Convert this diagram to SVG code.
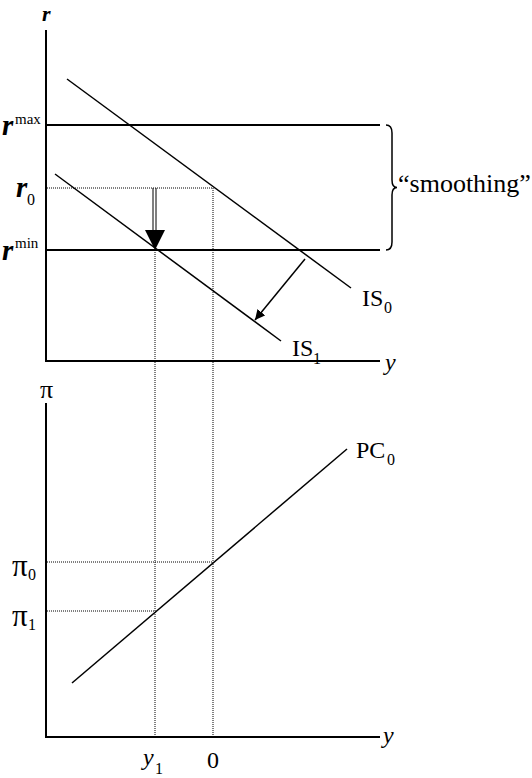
<svg xmlns="http://www.w3.org/2000/svg" width="532" height="778" viewBox="0 0 532 778">
<style>
text{font-family:"Liberation Serif","Times New Roman",serif;fill:#000}
.lbl{font-size:24px}
.sub{font-size:16px}
.sup{font-size:15px}
.it{font-style:italic}
.bi{font-style:italic;font-weight:bold;font-size:29px}
.pi{font-size:31px}
.axis{stroke:#000;stroke-width:2;fill:none}
.curve{stroke:#000;stroke-width:1.5;fill:none}
.dot{stroke:#000;stroke-width:1;stroke-dasharray:1 1;fill:none}
</style>
<defs>
<marker id="ah" viewBox="0 0 10 10" refX="10" refY="5" markerWidth="10" markerHeight="10" markerUnits="userSpaceOnUse" orient="auto">
<path d="M0,0 L10,5 L0,10 z" fill="#000"/>
</marker>
</defs>
<g id="top-panel">
<line class="axis" x1="46" y1="30" x2="46" y2="361"/>
<line class="axis" x1="45" y1="361" x2="380" y2="361"/>
<text class="bi" x="42" y="21" style="font-size:22px">r</text>
<text class="lbl it" x="385" y="370">y</text>
</g>
<g id="rmax">
<line class="axis" x1="46" y1="125" x2="380" y2="125"/>
<text class="bi" x="2" y="135">r</text>
<text class="sup" x="15" y="124">max</text>
</g>
<g id="rmin">
<line class="axis" x1="46" y1="250" x2="380" y2="250"/>
<text class="bi" x="2" y="260">r</text>
<text class="sup" x="15" y="248">min</text>
</g>
<g id="r0">
<text class="bi" x="16" y="197">r</text>
<text class="sub" x="27" y="205">0</text>
</g>
<g id="IS0">
<line class="curve" x1="67" y1="79" x2="351" y2="288"/>
<text class="lbl" x="362" y="306">IS</text>
<text class="sub" x="384" y="313">0</text>
</g>
<g id="IS1">
<line class="curve" x1="55" y1="174" x2="281" y2="341"/>
<text class="lbl" x="292" y="356">IS</text>
<text class="sub" x="313" y="364">1</text>
</g>
<g id="smoothing">
<path class="curve" d="M386,125 Q392,125 392,133 L392,180 Q392,187.5 397,187.5 Q392,187.5 392,195 L392,242 Q392,250 386,250"/>
<text class="lbl" x="398" y="192" style="font-size:26px">“smoothing”</text>
</g>
<g id="bottom-panel">
<line class="axis" x1="46" y1="403" x2="46" y2="737"/>
<line class="axis" x1="45" y1="737" x2="380" y2="737"/>
<text class="lbl" x="40" y="398" style="font-size:26px">π</text>
<text class="lbl it" x="383" y="743">y</text>
</g>
<g id="PC0">
<line class="curve" x1="72" y1="683" x2="347" y2="449"/>
<text class="lbl" x="356" y="458">PC</text>
<text class="sub" x="387" y="465">0</text>
</g>
<g id="pi0">
<text class="pi" x="12" y="576">π</text>
<text class="sub" x="28" y="580">0</text>
</g>
<g id="pi1">
<text class="pi" x="12" y="626">π</text>
<text class="sub" x="28" y="630">1</text>
</g>
<g id="y1">
<text class="lbl it" x="143" y="765">y</text>
<text class="sub" x="155" y="774">1</text>
</g>
<g id="zero">
<text class="lbl" x="207" y="768">0</text>
</g>
<g id="connectors">
<line class="dot" x1="47" y1="188" x2="213" y2="188"/>
<line class="dot" x1="213" y1="188" x2="213" y2="737"/>
<line class="dot" x1="155" y1="250" x2="155" y2="737"/>
<line class="dot" x1="47" y1="562" x2="213" y2="562"/>
<line class="dot" x1="47" y1="611" x2="155" y2="611"/>
<line stroke="#000" stroke-width="1" x1="153" y1="188" x2="153" y2="231"/>
<line stroke="#000" stroke-width="1" x1="156" y1="188" x2="156" y2="231"/>
<path d="M145,230 L165,230 L155,250 z" fill="#000"/>
<line class="curve" x1="305" y1="259" x2="255" y2="320" marker-end="url(#ah)"/>
</g>
</svg>
